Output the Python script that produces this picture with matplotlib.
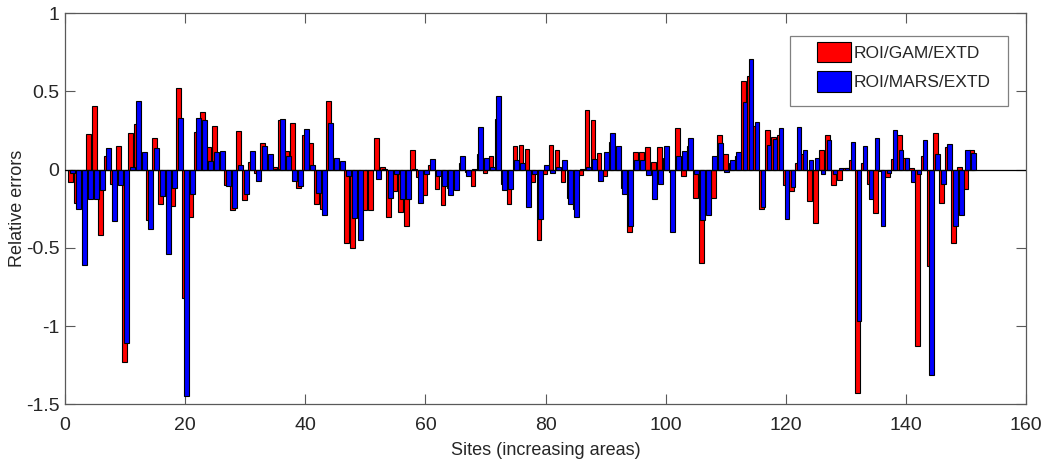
import matplotlib
matplotlib.use("Agg")
import matplotlib.pyplot as plt
import numpy as np
from matplotlib.patches import Patch, Rectangle

plt.rcParams["font.family"] = ["Liberation Sans Narrow", "Liberation Sans", "DejaVu Sans"]

# relative errors per site (sites ordered by increasing area)
gam_extd = [
    -0.08, -0.21, -0.18, 0.23, 0.41, -0.42, 0.085, -0.09, 0.15, -1.23,
    0.236, 0.29, -0.005, -0.32, 0.20, -0.22, -0.17, -0.23, 0.52, -0.82,
    -0.30, 0.24, 0.37, 0.145, 0.28, 0.10, -0.10, -0.255, 0.25, -0.195,
    0.05, -0.02, 0.17, 0.01, 0.02, 0.32, 0.117, 0.30, -0.12, 0.225,
    0.17, -0.22, -0.25, 0.44, 0.06, 0.04, -0.47, -0.50, -0.30, -0.26,
    -0.255, 0.20, 0.02, -0.30, -0.136, -0.27, -0.36, 0.128, -0.047, -0.164,
    0.03, -0.125, -0.223, -0.12, -0.10, 0.04, -0.015, -0.106, 0.10, -0.02,
    0.09, 0.325, -0.094, -0.217, 0.15, 0.155, 0.134, -0.08, -0.447, -0.025,
    0.16, 0.123, -0.08, -0.18, -0.25, -0.036, 0.38, 0.315, 0.106, -0.04,
    0.177, 0.12, -0.12, -0.40, 0.11, 0.11, 0.145, 0.047, 0.145, 0.077,
    -0.015, 0.268, -0.04, 0.15, -0.18, -0.596, -0.25, -0.18, 0.223, 0.10,
    0.04, 0.09, 0.564, 0.596, 0.28, -0.25, 0.255, 0.21, 0.22, -0.10,
    -0.138, 0.045, 0.10, -0.20, -0.34, 0.123, 0.223, -0.096, -0.068, 0.01,
    0.064, -1.43, 0.04, -0.094, -0.277, -0.01, -0.047, 0.07, 0.22, 0.077,
    0.013, -1.13, 0.09, -0.617, 0.236, -0.21, 0.145, -0.466, 0.02, -0.125,
    0.128,
]
mars_extd = [
    -0.02, -0.25, -0.61, -0.19, -0.19, -0.13, 0.14, -0.33, -0.10, -1.11,
    0.02, 0.44, 0.11, -0.38, 0.14, -0.17, -0.54, -0.12, 0.33, -1.45,
    -0.157, 0.33, 0.32, 0.053, 0.11, 0.12, -0.106, -0.245, 0.03, -0.153,
    0.12, -0.07, 0.15, 0.10, 0.006, 0.325, 0.085, -0.07, -0.106, 0.26,
    0.03, -0.147, -0.29, 0.30, 0.077, 0.053, -0.04, -0.31, -0.447, -0.005,
    -0.005, -0.06, 0.005, -0.18, -0.03, -0.19, -0.185, 0.006, -0.21, -0.025,
    0.07, -0.043, -0.106, -0.164, -0.132, 0.085, -0.04, 0.006, 0.27, 0.077,
    0.017, 0.47, -0.13, -0.125, 0.06, 0.043, -0.238, -0.03, -0.313, 0.03,
    -0.02, 0.017, 0.064, -0.217, -0.30, 0.006, 0.017, 0.07, -0.074, 0.113,
    0.236, 0.15, -0.153, -0.36, 0.064, 0.06, -0.036, -0.185, -0.09, 0.149,
    -0.40, 0.09, 0.117, 0.20, -0.03, -0.32, -0.287, 0.085, 0.17, -0.015,
    0.06, 0.113, 0.43, 0.708, 0.304, -0.238, 0.16, 0.198, 0.268, -0.313,
    -0.11, 0.272, 0.128, 0.06, 0.077, -0.025, 0.187, -0.03, 0.013, 0.013,
    0.18, -0.97, 0.15, -0.19, 0.204, -0.36, -0.02, 0.255, 0.128, 0.077,
    -0.08, -0.03, 0.19, -1.31, 0.098, -0.094, 0.166, -0.36, -0.287, 0.128,
    0.106,
]
series_labels = ["ROI/GAM/EXTD", "ROI/MARS/EXTD"]
sites = np.arange(1, len(gam_extd) + 1)

AX_COL = "0.35"
TXT_COL = "0.15"

fig = plt.figure(figsize=(10.45, 4.67), dpi=100)
ax = fig.add_axes([65 / 1045, 1 - 404.3 / 467, 961 / 1045, 391 / 467])

ax.bar(sites - 0.08, gam_extd, width=0.8, color="#ff0000",
       edgecolor="black", linewidth=0.8, zorder=2)
ax.bar(sites + 0.2, mars_extd, width=0.8, color="#0000ff",
       edgecolor="black", linewidth=0.8, zorder=3)
ax.axhline(0, color="black", lw=0.9, zorder=4)

ax.set_xlim(0, 160)
ax.set_ylim(-1.5, 1)
ax.set_xticks(np.arange(0, 161, 20))
ax.set_yticks([-1.5, -1, -0.5, 0, 0.5, 1])
ax.set_yticklabels(["-1.5", "-1", "-0.5", "0", "0.5", "1"])
ax.tick_params(direction="in", length=7, width=0.8, color=AX_COL,
               top=True, right=True, labelsize=14, labelcolor=TXT_COL)
ax.tick_params(axis="x", pad=9)
ax.tick_params(axis="y", pad=4)
for sp in ax.spines.values():
    sp.set_color(AX_COL)
    sp.set_linewidth(0.9)

ax.set_xlabel("Sites (increasing areas)", fontsize=13, color=TXT_COL, labelpad=6)
ax.set_ylabel("Relative errors", fontsize=13, color=TXT_COL, labelpad=0)

# legend frame drawn by hand (MATLAB-like wide side margins)
frame = Rectangle((0.754, 0.763), 0.227, 0.179, transform=ax.transAxes,
                  facecolor="white", edgecolor="0.5", linewidth=0.9,
                  zorder=5, clip_on=False)
ax.add_patch(frame)
handles = [Patch(facecolor="#ff0000", edgecolor="black", linewidth=0.8),
           Patch(facecolor="#0000ff", edgecolor="black", linewidth=0.8)]
leg = ax.legend(handles, series_labels, loc="upper left",
                bbox_to_anchor=(0.782, 0.927), borderaxespad=0, borderpad=0,
                frameon=False, fontsize=12.5, handlelength=2.0,
                handleheight=1.45, handletextpad=0.15, labelspacing=0.5)
leg.set_zorder(6)
for t in leg.get_texts():
    t.set_color(TXT_COL)

fig.savefig("out.png", dpi=100)
